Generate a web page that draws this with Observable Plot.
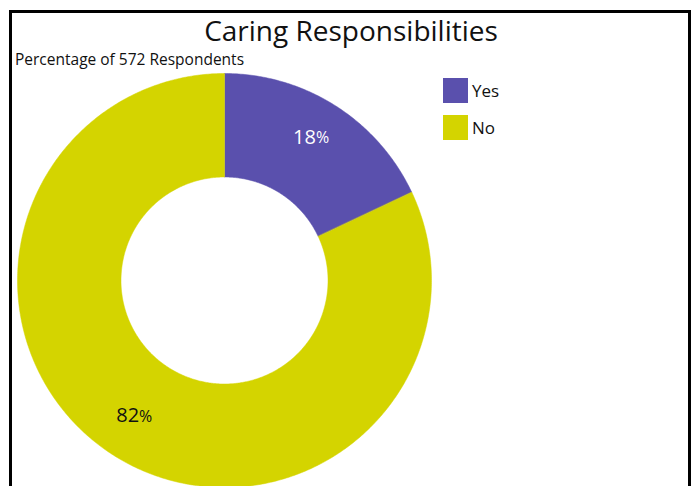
<!DOCTYPE html>
<html>
<head>
<meta charset="utf-8">
<script src="https://cdn.jsdelivr.net/npm/d3@7"></script>
<script src="https://cdn.jsdelivr.net/npm/@observablehq/plot@0.6"></script>
<style>
  html, body { margin: 0; padding: 0; background: #fff; width: 696px; height: 486px; overflow: hidden; }
  body { position: relative; font-family: "Open Sans", "DejaVu Sans", sans-serif; color: #111; }
  #frame { position: absolute; left: 9px; top: 10px; width: 676px; height: 600px; border: 3px solid #000; border-bottom: none; box-sizing: content-box; }
  #chart { position: absolute; left: 0; top: 0; }
  #title { position: absolute; left: 0; width: 702px; top: 12px; text-align: center; font-size: 28px; line-height: 36px; }
  #subtitle { position: absolute; left: 15px; top: 49px; font-size: 15.5px; line-height: 20px; }
  #legend { position: absolute; left: 443px; top: 78px; font-size: 17px; }
  .sw { display: flex; align-items: center; height: 25px; margin-bottom: 12px; }
  .sw span.box { display: inline-block; width: 25px; height: 25px; margin-right: 4px; }
</style>
</head>
<body>
<div id="frame"></div>
<div id="chart"></div>
<div id="title">Caring Responsibilities</div>
<div id="subtitle">Percentage of 572 Respondents</div>
<div id="legend"></div>
<script>
const categories = ["Yes", "No"];
const percentages = [18, 82];
const colors = ["#5a50ad", "#d4d400"];
const labelColors = ["#ffffff", "#111111"];

const outerR = 207, innerR = 103.5, labelR = 165;

const pie = d3.pie().sort(null).value(d => d.value)(categories.map((c, i) => ({ category: c, value: percentages[i] })));

// Polygon outline of each donut slice in data units (x right, y up)
const polys = [];
pie.forEach(a => {
  const n = Math.max(8, Math.ceil((a.endAngle - a.startAngle) / 0.01));
  for (let k = 0; k <= n; k++) {
    const t = a.startAngle + (a.endAngle - a.startAngle) * k / n;
    polys.push({ category: a.data.category, x: outerR * Math.sin(t), y: outerR * Math.cos(t) });
  }
  for (let k = n; k >= 0; k--) {
    const t = a.startAngle + (a.endAngle - a.startAngle) * k / n;
    polys.push({ category: a.data.category, x: innerR * Math.sin(t), y: innerR * Math.cos(t) });
  }
});

const labels = pie.map((a, i) => {
  const t = (a.startAngle + a.endAngle) / 2;
  return { category: a.data.category, num: String(a.data.value), x: labelR * Math.sin(t), y: labelR * Math.cos(t), color: labelColors[i] };
});

const chart = Plot.plot({
  width: 696,
  height: 486,
  margin: 0,
  x: { domain: [-224, 472], axis: null },
  y: { domain: [-206, 280], axis: null },
  color: { domain: categories, range: colors },
  style: { background: "transparent", fontFamily: "'Open Sans', sans-serif" },
  marks: [
    Plot.line(polys, { x: "x", y: "y", z: "category", fill: "category", stroke: "category", strokeWidth: 0.5, curve: "linear-closed" }),
    Plot.text(labels, { x: "x", y: "y", text: "num", fill: "color", fontSize: 20, textAnchor: "end", dx: 3, dy: -4 }),
    Plot.text(labels, { x: "x", y: "y", text: () => "%", fill: "color", fontSize: 16, textAnchor: "start", dx: 3, dy: -3 })
  ]
});
document.getElementById("chart").appendChild(chart);

const legend = document.getElementById("legend");
categories.forEach((c, i) => {
  const row = document.createElement("div");
  row.className = "sw";
  row.innerHTML = `<span class="box" style="background:${colors[i]}"></span><span>${c}</span>`;
  legend.appendChild(row);
});
</script>
</body>
</html>
